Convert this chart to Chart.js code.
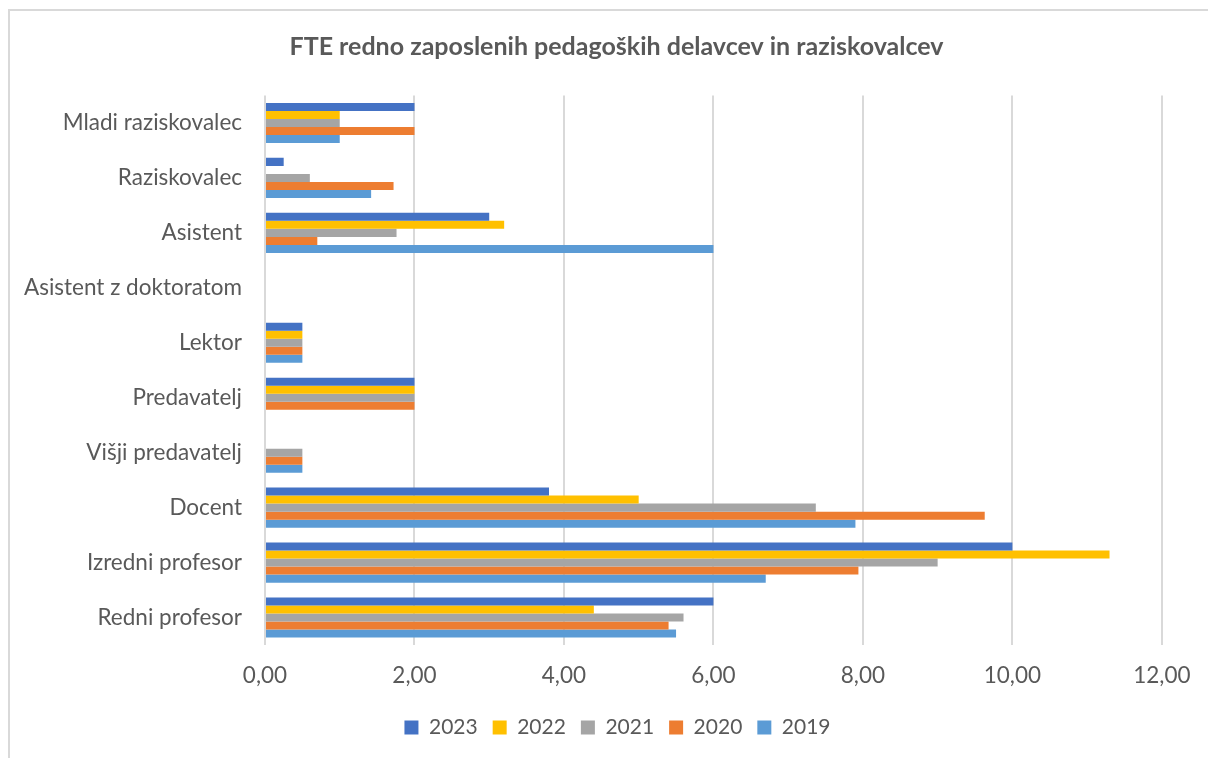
<!DOCTYPE html>
<html>
<head>
<meta charset="utf-8">
<script src="https://cdn.jsdelivr.net/npm/chart.js@4.4.1/dist/chart.umd.min.js"></script>
<style>
    body { margin: 0; background: #fff; }
    .chartBox { position: relative; width: 1208px; height: 758px; }
    .frame { position: absolute; left: 8px; top: 9px; right: -4px; bottom: -4px;
             border-left: 2px solid #d9d9d9; border-top: 2px solid #d9d9d9; }
    canvas { position: absolute; left: 0; top: 0; }
</style>
</head>
<body>

<div class="chartBox">
    <div class="frame"></div>
    <canvas id="myChart" width="1208" height="758"></canvas>
</div>

<script>
// categories (top to bottom)
const categories = ['Mladi raziskovalec', 'Raziskovalec', 'Asistent', 'Asistent z doktoratom', 'Lektor',
                    'Predavatelj', 'Višji predavatelj', 'Docent', 'Izredni profesor', 'Redni profesor'];

// FTE per year
const fte2023 = [2, 0.25, 3, 0, 0.5, 2, 0, 3.8, 10, 6];
const fte2022 = [1, 0, 3.2, 0, 0.5, 2, 0, 5, 11.3, 4.4];
const fte2021 = [1, 0.6, 1.76, 0, 0.5, 2, 0.5, 7.37, 9, 5.6];
const fte2020 = [2, 1.72, 0.7, 0, 0.5, 2, 0.5, 9.63, 7.94, 5.4];
const fte2019 = [1, 1.42, 6, 0, 0.5, 0, 0.5, 7.9, 6.7, 5.5];

const seriesNames = ['2023', '2022', '2021', '2020', '2019'];
const xTicks = [0, 2, 4, 6, 8, 10, 12];

//Global Options
Chart.defaults.font.family = 'Lato, "Open Sans", sans-serif';
Chart.defaults.font.size = 22.5;
Chart.defaults.color = '#595959';

// title and legend are centred on the whole frame, not on the space right of the labels
const shiftBlocks = {
    id: 'shiftBlocks',
    afterLayout(chart) {
        chart.titleBlock.left = 70;
        chart.legend.left = 72;
    }
};

const data = {
    labels: categories,
    datasets: [
        { label: seriesNames[0], data: fte2023, backgroundColor: '#4472C4' },
        { label: seriesNames[1], data: fte2022, backgroundColor: '#FFC000' },
        { label: seriesNames[2], data: fte2021, backgroundColor: '#A5A5A5' },
        { label: seriesNames[3], data: fte2020, backgroundColor: '#ED7D31' },
        { label: seriesNames[4], data: fte2019, backgroundColor: '#5B9BD5' }
    ]
};

const config = {
    type: 'bar',
    data,
    plugins: [shiftBlocks],
    options: {
        indexAxis: 'y',
        responsive: false,
        animation: false,
        datasets: {
            bar: { categoryPercentage: 0.73, barPercentage: 1 }
        },
        layout: { padding: { left: 0, right: 45, top: 0, bottom: 10 } },
        plugins: {
            title: {
                display: true,
                text: 'FTE redno zaposlenih pedagoških delavcev in raziskovalcev',
                color: '#595959',
                font: { size: 25, weight: 'bold' },
                padding: { top: 32, bottom: 33.5 }
            },
            legend: {
                position: 'bottom',
                labels: { boxWidth: 14, boxHeight: 14, padding: 15, color: '#595959', font: { size: 21 } }
            },
            tooltip: { enabled: false }
        },
        scales: {
            x: {
                min: 0,
                max: 12,
                afterBuildTicks: function(scale) {
                    scale.ticks = xTicks.map(v => ({ value: v }));
                },
                afterFit: function(scale) {
                    scale.height = 57;
                },
                ticks: {
                    padding: 17.5,
                    color: '#595959',
                    callback: v => v.toFixed(2).replace('.', ',')
                },
                grid: { color: '#d9d9d9', lineWidth: 2, drawTicks: false },
                border: { display: false }
            },
            y: {
                afterFit: function(scale) {
                    scale.width = 265;
                },
                ticks: { padding: 15, color: '#595959' },
                grid: { display: false },
                border: { display: false }
            }
        }
    }
};

const myChart = new Chart(document.getElementById('myChart'), config);
</script>

</body>
</html>
